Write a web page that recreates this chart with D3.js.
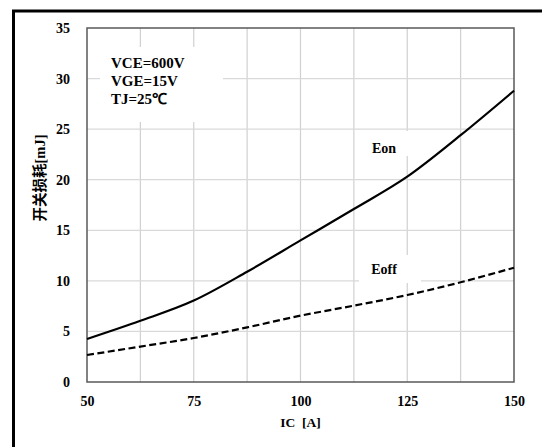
<!DOCTYPE html>
<html>
<head>
<meta charset="utf-8">
<script src="https://cdn.jsdelivr.net/npm/d3@7"></script>
<style>
html,body{margin:0;padding:0;background:#fff;}
svg{display:block;}
text{font-family:"Liberation Serif","Times New Roman",serif;font-weight:bold;fill:#000;}
</style>
</head>
<body>
<svg id="chart" width="542" height="447"></svg>
<script>
const icValues = [50, 62.5, 75, 87.5, 100, 112.5, 125, 137.5, 150];
const eonValues = [4.25, 6.05, 8.05, 10.9, 14.0, 17.1, 20.3, 24.4, 28.8];
const eoffValues = [2.67, 3.5, 4.35, 5.4, 6.56, 7.55, 8.6, 9.86, 11.3];
const xTickLabels = [50, 75, 100, 125, 150];
const yTickLabels = [0, 5, 10, 15, 20, 25, 30, 35];
const xGridValues = [62.5, 75, 87.5, 100, 112.5, 125, 137.5];
const yGridValues = [5, 10, 15, 20, 25, 30];
const conditionLines = ["VCE=600V", "VGE=15V", "TJ=25℃"];
const seriesNames = ["Eon", "Eoff"];
const xTitle = "IC  [A]";
const yTitle = "开关损耗[mJ]";

const svg = d3.select("#chart");
const pLeft = 87, pRight = 514, pTop = 28, pBottom = 382;
const x = d3.scaleLinear().domain([50, 150]).range([pLeft, pRight]);
const y = d3.scaleLinear().domain([0, 35]).range([pBottom, pTop]);

// outer frame
svg.append("path").attr("d", `M13.5,450 L13.5,11 L545,11`)
  .attr("fill", "none").attr("stroke", "#000").attr("stroke-width", 3);

// grid
const grid = svg.append("g");
grid.selectAll("line.v").data(xGridValues).enter().append("line")
  .attr("x1", d => x(d)).attr("x2", d => x(d)).attr("y1", pTop).attr("y2", pBottom)
  .attr("stroke", "#d0d0d0").attr("stroke-width", 1.2);
grid.selectAll("line.h").data(yGridValues).enter().append("line")
  .attr("x1", pLeft).attr("x2", pRight).attr("y1", d => y(d)).attr("y2", d => y(d))
  .attr("stroke", "#d9d9d9").attr("stroke-width", 1.2);

// white label boxes
svg.append("rect").attr("x", 100).attr("y", 47).attr("width", 123).attr("height", 75).attr("fill", "#fff");
svg.append("rect").attr("x", 358).attr("y", 131).attr("width", 62).attr("height", 25).attr("fill", "#fff");
svg.append("rect").attr("x", 359).attr("y", 255).attr("width", 62).attr("height", 28).attr("fill", "#fff");

// plot border
svg.append("rect").attr("x", pLeft).attr("y", pTop).attr("width", pRight - pLeft).attr("height", pBottom - pTop)
  .attr("fill", "none").attr("stroke", "#595959").attr("stroke-width", 1.5);

// axes
const xAxis = d3.axisBottom(x).tickValues(xTickLabels).tickSize(0).tickPadding(14);
const gx = svg.append("g").attr("transform", `translate(0,${pBottom})`).call(xAxis);
gx.select(".domain").remove();
gx.selectAll("text").attr("font-size", 14).attr("font-family", "Liberation Serif").attr("font-weight", "bold").attr("fill", "#000");

const yAxis = d3.axisLeft(y).tickValues(yTickLabels).tickSize(0).tickPadding(17);
const gy = svg.append("g").attr("transform", `translate(${pLeft},0)`).call(yAxis);
gy.select(".domain").remove();
gy.selectAll("text").attr("font-size", 14).attr("font-family", "Liberation Serif").attr("font-weight", "bold").attr("fill", "#000");

// lines
const line = d3.line().x((d, i) => x(icValues[i])).y(d => y(d)).curve(d3.curveMonotoneX);
svg.append("path").datum(eonValues).attr("d", line)
  .attr("fill", "none").attr("stroke", "#000").attr("stroke-width", 2.2);
svg.append("path").datum(eoffValues).attr("d", line)
  .attr("fill", "none").attr("stroke", "#000").attr("stroke-width", 2.2).attr("stroke-dasharray", "7,3.5");

// annotations
svg.selectAll("text.cond").data(conditionLines).enter().append("text")
  .attr("class", "cond").attr("x", 111).attr("y", (d, i) => 68 + i * 18)
  .attr("font-size", 15).text(d => d);

svg.append("text").attr("x", 384).attr("y", 153).attr("text-anchor", "middle").attr("font-size", 14).text(seriesNames[0]);
svg.append("text").attr("x", 384).attr("y", 274).attr("text-anchor", "middle").attr("font-size", 14).text(seriesNames[1]);

// axis titles
svg.append("text").attr("x", x(100)).attr("y", 427).attr("text-anchor", "middle").attr("font-size", 13.5)
  .attr("xml:space", "preserve").style("white-space", "pre").text(xTitle);

svg.append("text").attr("transform", "translate(45,178) rotate(-90)").attr("text-anchor", "middle")
  .attr("font-size", 14.5)
  .style("font-family", "'Liberation Serif','Noto Sans CJK SC',serif")
  .text(yTitle);
</script>
</body>
</html>
